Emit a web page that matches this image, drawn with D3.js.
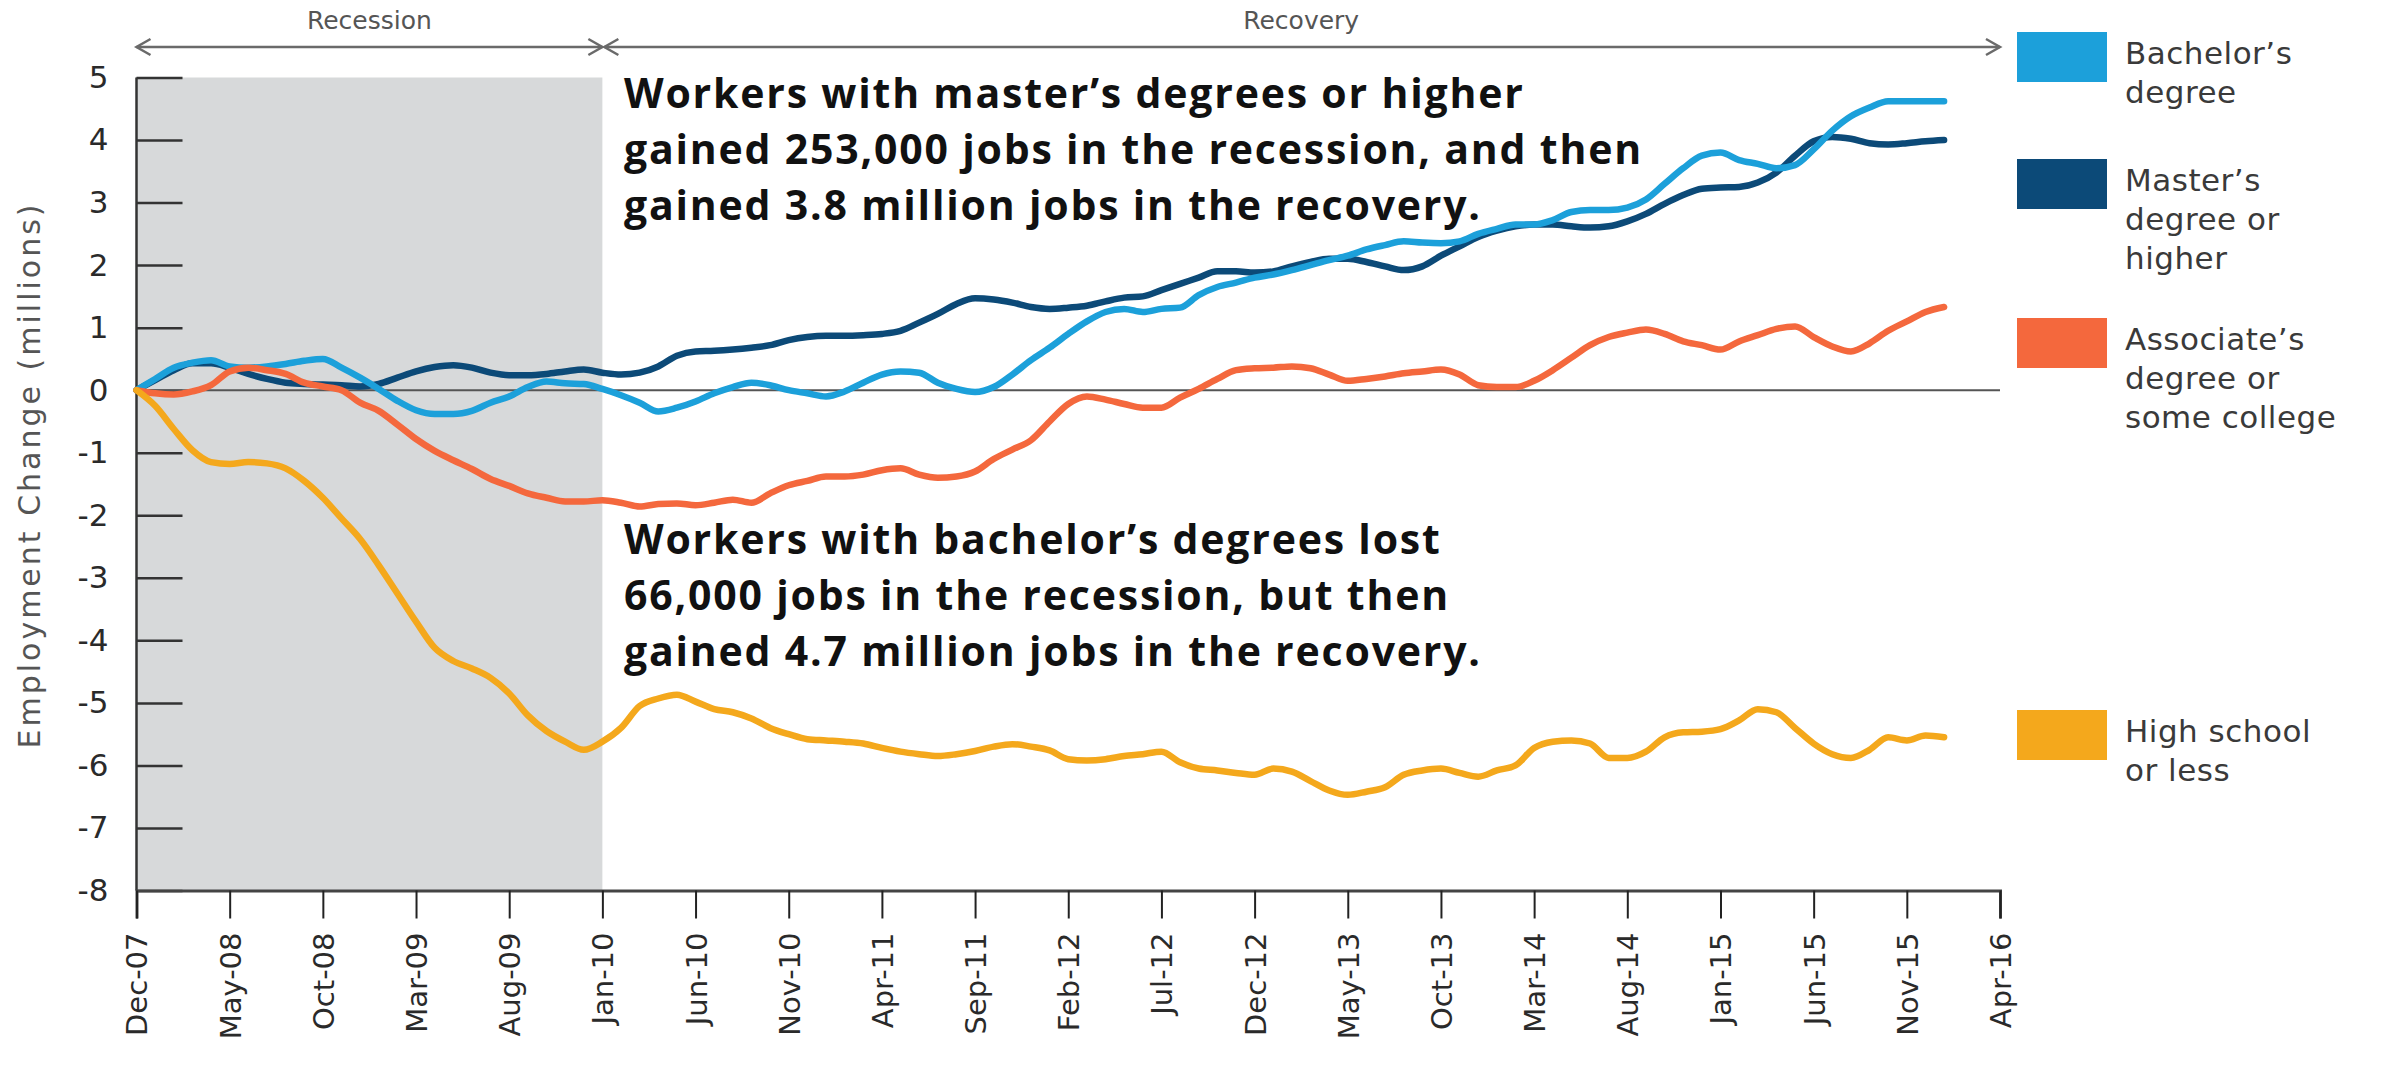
<!DOCTYPE html>
<html>
<head>
<meta charset="utf-8">
<script src="https://cdn.jsdelivr.net/npm/d3@7"></script>
<style>
  body { margin: 0; background: #fff; }
  svg { display: block; }
</style>
</head>
<body>
<svg id="chart" width="2384" height="1066"></svg>
<script>
// Monthly employment change since Dec-07, millions of jobs (index 0 = Dec-07)
const tickLabels = ["Dec-07", "May-08", "Oct-08", "Mar-09", "Aug-09", "Jan-10", "Jun-10",
  "Nov-10", "Apr-11", "Sep-11", "Feb-12", "Jul-12", "Dec-12", "May-13", "Oct-13",
  "Mar-14", "Aug-14", "Jan-15", "Jun-15", "Nov-15", "Apr-16"];

const yTicks = [5, 4, 3, 2, 1, 0, -1, -2, -3, -4, -5, -6, -7, -8];

const bachelors = [
  0, 0.18, 0.36, 0.44, 0.48, 0.38, 0.36, 0.38, 0.42, 0.47,
  0.5, 0.36, 0.2, 0.02, -0.17, -0.32, -0.38, -0.38, -0.33, -0.2,
  -0.1, 0.05, 0.14, 0.11, 0.1, 0.02, -0.08, -0.2, -0.34, -0.28,
  -0.18, -0.05, 0.05, 0.12, 0.08, 0.0, -0.05, -0.1, -0.02, 0.12,
  0.25, 0.3, 0.28, 0.12, 0.02, -0.03, 0.05, 0.25, 0.48, 0.68,
  0.9, 1.1, 1.25, 1.3, 1.25, 1.3, 1.32, 1.52, 1.65, 1.72,
  1.8, 1.85, 1.92, 2.0, 2.08, 2.15, 2.25, 2.32, 2.38, 2.36,
  2.35, 2.38, 2.5, 2.58, 2.65, 2.65, 2.72, 2.85, 2.88, 2.88,
  2.92, 3.05, 3.3, 3.55, 3.75, 3.8, 3.68, 3.62, 3.55, 3.6,
  3.85, 4.15, 4.38, 4.52, 4.62, 4.62, 4.62, 4.62];

const masters = [
  0, 0.16, 0.32, 0.43, 0.43, 0.36, 0.26, 0.18, 0.12, 0.1,
  0.09, 0.08, 0.06, 0.1, 0.2, 0.3, 0.37, 0.4, 0.36, 0.28,
  0.24, 0.24, 0.26, 0.3, 0.33, 0.28, 0.25, 0.28, 0.38, 0.55,
  0.62, 0.63, 0.65, 0.68, 0.72, 0.8, 0.85, 0.87, 0.87, 0.88,
  0.9, 0.95, 1.08, 1.22, 1.38, 1.47, 1.45, 1.4, 1.33, 1.3,
  1.32, 1.35, 1.42, 1.48, 1.5, 1.6, 1.7, 1.8, 1.9, 1.9,
  1.88, 1.9, 1.98, 2.05, 2.1, 2.1, 2.05, 1.98, 1.92, 1.98,
  2.15, 2.3, 2.45, 2.55, 2.62, 2.65, 2.65, 2.62, 2.6, 2.62,
  2.7, 2.82, 2.98, 3.12, 3.22, 3.24, 3.25, 3.32, 3.48, 3.75,
  3.98, 4.05, 4.02, 3.95, 3.93, 3.95, 3.98, 4.0];

const associates = [
  0, -0.05, -0.07, -0.02, 0.08, 0.3, 0.36, 0.32, 0.26, 0.12,
  0.06, 0.0, -0.2, -0.33, -0.55, -0.78, -0.97, -1.12, -1.26, -1.42,
  -1.53, -1.65, -1.72, -1.78, -1.78, -1.76, -1.8, -1.86, -1.82, -1.81,
  -1.84, -1.8, -1.75, -1.8, -1.65, -1.52, -1.45, -1.38, -1.38, -1.35,
  -1.28, -1.25, -1.35, -1.4, -1.38, -1.3, -1.1, -0.95, -0.8, -0.5,
  -0.22, -0.1, -0.15, -0.22, -0.28, -0.28, -0.12, 0.02, 0.18, 0.32,
  0.35, 0.36, 0.38, 0.35, 0.25, 0.15, 0.18, 0.22, 0.27, 0.3,
  0.33, 0.25, 0.08, 0.05, 0.05, 0.15, 0.32, 0.52, 0.72, 0.85,
  0.92, 0.97, 0.9, 0.78, 0.72, 0.65, 0.78, 0.88, 0.98, 1.02,
  0.85, 0.7, 0.62, 0.75, 0.95, 1.1, 1.25, 1.33];

const highSchool = [
  0, -0.25, -0.62, -0.96, -1.15, -1.18, -1.15, -1.17, -1.25, -1.45,
  -1.72, -2.05, -2.38, -2.8, -3.25, -3.7, -4.12, -4.33, -4.45, -4.6,
  -4.85, -5.2, -5.45, -5.62, -5.75, -5.62, -5.4, -5.05, -4.93, -4.87,
  -4.98, -5.1, -5.15, -5.25, -5.4, -5.5, -5.58, -5.6, -5.62, -5.65,
  -5.72, -5.78, -5.82, -5.85, -5.82, -5.77, -5.7, -5.66, -5.7, -5.76,
  -5.9, -5.92, -5.9, -5.85, -5.82, -5.78, -5.95, -6.05, -6.08, -6.12,
  -6.15, -6.05, -6.1, -6.25, -6.4, -6.47, -6.42, -6.35, -6.15, -6.08,
  -6.05, -6.12, -6.18, -6.08, -6.0, -5.72, -5.62, -5.6, -5.65, -5.88,
  -5.88, -5.78, -5.55, -5.47, -5.46, -5.42, -5.28, -5.1, -5.15, -5.4,
  -5.65, -5.82, -5.88, -5.75, -5.55, -5.6, -5.52, -5.55];

const seriesLabels = [
  ["Bachelor’s", "degree"],
  ["Master’s", "degree or", "higher"],
  ["Associate’s", "degree or", "some college"],
  ["High school", "or less"],
];
const seriesColors = ["#1ca0da", "#0c4a78", "#f4683d", "#f4a81c"];
const seriesValues = [bachelors, masters, associates, highSchool];

// Recession ends Jan-10 (month 25), recovery runs to the end of the axis
const periods = [
  { label: "Recession", from: 0, to: 25 },
  { label: "Recovery", from: 25, to: 100 },
];

const notes = [
  ["Workers with master’s degrees or higher",
   "gained 253,000 jobs in the recession, and then",
   "gained 3.8 million jobs in the recovery."],
  ["Workers with bachelor’s degrees lost",
   "66,000 jobs in the recession, but then",
   "gained 4.7 million jobs in the recovery."],
];

// ---- layout
const LAYOUT = {
  left: 136.5, right: 2000, top: 77.5, bottom: 890.5,
  lineWidth: 6.5,
  legendX: 2017, legendTops: [32, 159, 318, 710],
  noteX: 624, noteTops: [108, 554], noteLine: 56,
};

const GRAY_FONT = "'DejaVu Sans', sans-serif";

const svg = d3.select("#chart");
svg.append("rect").attr("width", 2384).attr("height", 1066).attr("fill", "#fff");

const x = d3.scaleLinear().domain([0, 100]).range([LAYOUT.left, LAYOUT.right]);
const y = d3.scaleLinear().domain([-8, 5]).range([LAYOUT.bottom, LAYOUT.top]);

// Recession shading
svg.append("rect")
  .attr("x", x(0))
  .attr("y", y(5))
  .attr("width", x(25) - x(0))
  .attr("height", y(-8) - y(5))
  .attr("fill", "#d7d9da");

// Y axis with ticks pointing into the plot; plain hyphen for negatives like the source
const axisY = d3.axisLeft(y)
  .tickValues(yTicks)
  .tickFormat(d => String(d))
  .tickSize(-46)
  .tickPadding(28);

svg.append("g")
  .attr("transform", `translate(${x(0)},0)`)
  .call(axisY)
  .call(g => g.select(".domain").remove())
  .call(g => g.selectAll(".tick line").attr("stroke", "#333").attr("stroke-width", 2.5))
  .call(g => g.selectAll(".tick text")
    .attr("fill", "#2a2a2a")
    .style("font-family", GRAY_FONT)
    .style("font-size", "31px"));

svg.append("line")
  .attr("x1", x(0)).attr("x2", x(0))
  .attr("y1", y(5)).attr("y2", y(-8))
  .attr("stroke", "#333").attr("stroke-width", 2.5);

// Zero line
svg.append("line")
  .attr("x1", x(0)).attr("x2", x(100))
  .attr("y1", y(0)).attr("y2", y(0))
  .attr("stroke", "#555").attr("stroke-width", 2);

// X axis, a tick every five months
const axisX = d3.axisBottom(x)
  .tickValues(d3.range(0, 101, 5))
  .tickFormat((d, i) => tickLabels[i])
  .tickSize(28);

svg.append("g")
  .attr("transform", `translate(0,${y(-8)})`)
  .call(axisX)
  .call(g => g.select(".domain").attr("stroke", "#444").attr("stroke-width", 3))
  .call(g => g.selectAll(".tick line").attr("stroke", "#222").attr("stroke-width", 2))
  .call(g => g.selectAll(".tick text")
    .attr("transform", "rotate(-90)")
    .attr("text-anchor", "end")
    .attr("x", -42)
    .attr("y", 0)
    .attr("dy", "0.36em")
    .attr("fill", "#2a2a2a")
    .style("font-family", GRAY_FONT)
    .style("font-size", "29px"));

// Y axis title
svg.append("text")
  .attr("transform", `translate(40,475) rotate(-90)`)
  .attr("text-anchor", "middle")
  .attr("fill", "#555")
  .style("font-family", GRAY_FONT)
  .style("font-size", "30px")
  .style("letter-spacing", "3px")
  .text("Employment Change (millions)");

// Period arrows along the top
const ARROW_Y = 47;
const arrows = svg.append("g").attr("stroke", "#6a6a6a").attr("stroke-width", 2.5).attr("fill", "none");
periods.forEach(p => {
  const x0 = x(p.from) + (p.from > 0 ? 2 : 0);
  const x1 = x(p.to);
  arrows.append("line").attr("x1", x0).attr("x2", x1).attr("y1", ARROW_Y).attr("y2", ARROW_Y);
  arrows.append("path").attr("d", `M${x0 + 14},${ARROW_Y - 8}L${x0},${ARROW_Y}L${x0 + 14},${ARROW_Y + 8}`);
  arrows.append("path").attr("d", `M${x1 - 14},${ARROW_Y - 8}L${x1},${ARROW_Y}L${x1 - 14},${ARROW_Y + 8}`);
  svg.append("text")
    .attr("x", (x(p.from) + x(p.to)) / 2)
    .attr("y", 29)
    .attr("text-anchor", "middle")
    .attr("fill", "#555")
    .style("font-family", GRAY_FONT)
    .style("font-size", "25px")
    .text(p.label);
});

// Series lines; master's drawn first so the others sit on top
const line = d3.line()
  .x((d, i) => x(i))
  .y(d => y(d))
  .curve(d3.curveMonotoneX);

const drawOrder = [1, 0, 2, 3];
svg.append("g")
  .attr("fill", "none")
  .attr("stroke-width", LAYOUT.lineWidth)
  .attr("stroke-linejoin", "round")
  .attr("stroke-linecap", "round")
  .selectAll("path")
  .data(drawOrder)
  .join("path")
  .attr("stroke", k => seriesColors[k])
  .attr("d", k => line(seriesValues[k]));

// Legend
const legend = svg.append("g");
seriesLabels.forEach((lines, k) => {
  const top = LAYOUT.legendTops[k];
  legend.append("rect")
    .attr("x", LAYOUT.legendX).attr("y", top)
    .attr("width", 90).attr("height", 50)
    .attr("fill", seriesColors[k]);
  legend.append("text")
    .attr("fill", "#3a3a3a")
    .style("font-family", GRAY_FONT)
    .style("font-size", "31px")
    .style("letter-spacing", "0.5px")
    .selectAll("tspan")
    .data(lines)
    .join("tspan")
    .attr("x", LAYOUT.legendX + 108)
    .attr("y", (d, i) => top + 32 + i * 39)
    .text(d => d);
});

// Annotations
notes.forEach((lines, k) => {
  svg.append("text")
    .attr("fill", "#111")
    .style("font-family", "'Open Sans', sans-serif")
    .style("font-weight", 700)
    .style("font-size", "41px")
    .style("letter-spacing", "1.8px")
    .selectAll("tspan")
    .data(lines)
    .join("tspan")
    .attr("x", LAYOUT.noteX)
    .attr("y", (d, i) => LAYOUT.noteTops[k] + i * LAYOUT.noteLine)
    .text(d => d);
});
</script>
</body>
</html>
